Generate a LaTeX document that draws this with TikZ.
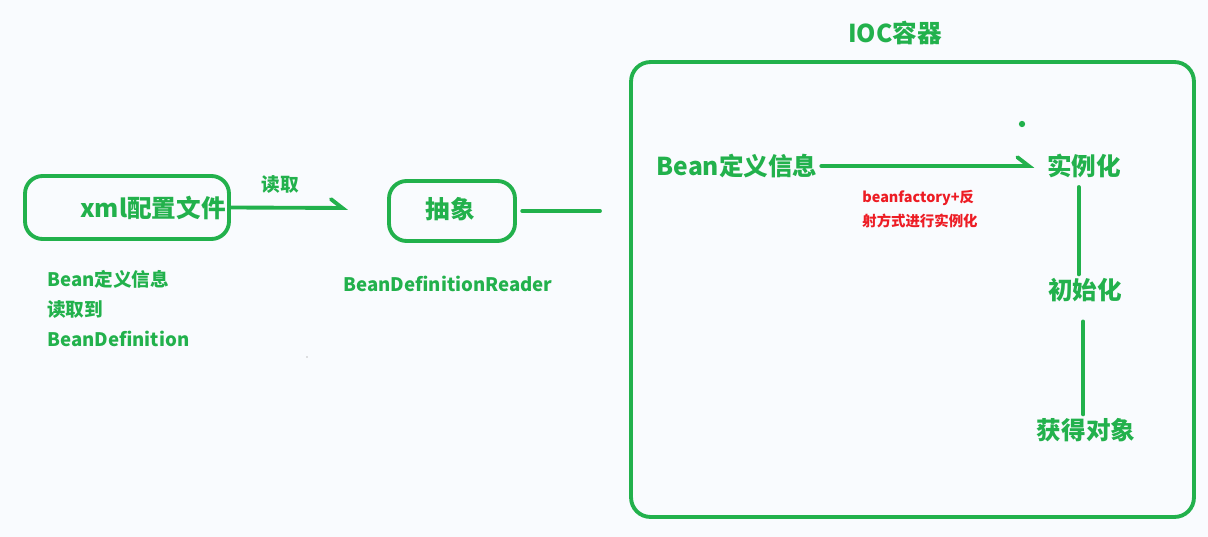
\documentclass[tikz,border=0pt]{standalone}
\usepackage{fontspec}
\setmainfont{Noto Sans CJK SC}
\usetikzlibrary{arrows.meta}
\definecolor{paintgreen}{RGB}{34,177,76}
\definecolor{paintred}{RGB}{237,28,36}
\definecolor{paper}{RGB}{249,251,254}
\tikzset{
  greenbox/.style={draw=paintgreen, line width=2.2pt, rounded corners=10pt, inner sep=0pt},
  conn/.style={draw=paintgreen, line width=2.2pt, line cap=round},
  halfarrow/.style={-{Straight Barb[harpoon, length=6.5pt, width=10pt, line cap=round]}},
  bigtxt/.style={text=paintgreen, font=\bfseries\fontsize{14}{17}\selectfont, inner sep=2pt},
  midtxt/.style={text=paintgreen, font=\bfseries\fontsize{10.6}{17}\selectfont, inner sep=0pt},
  redtxt/.style={text=paintred, font=\bfseries\fontsize{8.2}{13}\selectfont, inner sep=0pt}
}
\begin{document}
\begin{tikzpicture}[x=0.02cm, y=-0.02cm]
    \fill[paper] (0,0) rectangle (1208,537);
    \useasboundingbox (0,0) rectangle (1208,537);
    % left part
    \node[greenbox, minimum width=4.08cm, minimum height=1.26cm] (xmlbox) at (127,207.5) {};
    \node[bigtxt] (xml) at (153,208) {xml配置文件};
    \node[midtxt] (read) at (280,184) {读取};
    \coordinate (readend) at (348,208);
    \draw[conn, halfarrow] (xmlbox.east) -- (readend);
    \node[midtxt, anchor=north west, align=left] (info) at (47,270) {Bean定义信息\\读取到\\BeanDefinition};
    % reader
    \node[greenbox, minimum width=2.52cm, minimum height=1.2cm] (absbox) at (452,211) {};
    \node[bigtxt] (abs) at (450,209) {抽象};
    \node[midtxt] (reader) at (448,284) {BeanDefinitionReader};
    \coordinate (absend) at (600,211);
    \draw[conn, shorten <=3pt] (absbox.east) -- (absend);
    % ioc container
    \node[bigtxt] (ioctitle) at (895,33) {IOC容器};
    \node[greenbox, rounded corners=11pt, minimum width=11.26cm, minimum height=9.1cm] (iocbox) at (912.5,289.5) {};
    \node[bigtxt] (bdef) at (737,166) {Bean定义信息};
    \node[bigtxt] (shili) at (1084,166) {实例化};
    \node[bigtxt] (chushi) at (1085,290) {初始化};
    \node[bigtxt] (huoqu) at (1086,430) {获得对象};
    \draw[conn, halfarrow, shorten >=5pt] (bdef.east) -- (shili.west);
    \node[redtxt, anchor=west] (factory1) at (862,198) {beanfactory+反};
    \node[redtxt, anchor=west] (factory2) at (862,221) {射方式进行实例化};
    \draw[conn, shorten <=3pt] ([xshift=-3pt]shili.south) -- ([xshift=-3pt]shili.south |- chushi.north);
    \draw[conn, shorten <=9pt] ([xshift=-1pt]chushi.south) -- ([xshift=-1pt]chushi.south |- huoqu.north);
    % stray marks
    \fill[paintgreen] (1022,124) circle (1.8pt);
    \fill[gray] (307,357) circle (0.4pt);
\end{tikzpicture}
\end{document}
